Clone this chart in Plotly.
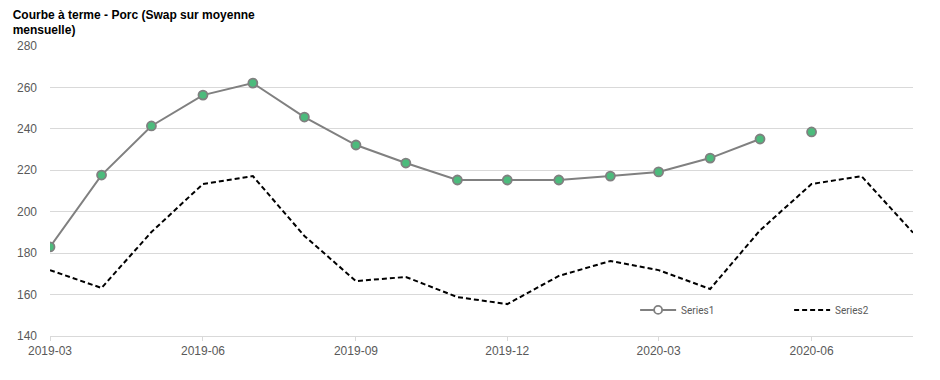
import plotly.graph_objects as go

months = ["2019-03-01", "2019-04-01", "2019-05-01", "2019-06-01", "2019-07-01", "2019-08-01",
          "2019-09-01", "2019-10-01", "2019-11-01", "2019-12-01", "2020-01-01", "2020-02-01",
          "2020-03-01", "2020-04-01", "2020-05-01", "2020-06-01", "2020-07-01", "2020-08-01"]

series1 = [183.0, 217.7, 241.4, 256.3, 262.1, 245.7, 232.2, 223.5, 215.3, 215.3, 215.3,
           217.2, 219.2, 225.9, 235.1, 238.5]
series2 = [171.8, 163.2, 190.2, 213.4, 217.2, 188.3, 166.5, 168.5, 158.8, 155.4, 169.0,
           176.2, 171.8, 162.7, 191.0, 213.4, 217.2, 189.9]

title_text = "Courbe à terme - Porc (Swap sur moyenne<br>mensuelle)"
yticks = [140, 160, 180, 200, 220, 240, 260, 280]

gray_line = "#808080"
green = "#4cbb7c"

fig = go.Figure()
# Series1: connected part
fig.add_trace(go.Scatter(
    x=months[:len(series1) - 1], y=series1[:-1], name="Series1",
    mode="lines+markers", showlegend=False, legendgroup="s1",
    line=dict(color=gray_line, width=2),
    marker=dict(size=9, color=green, line=dict(color=gray_line, width=1.8)),
))
# Series1: isolated last point
fig.add_trace(go.Scatter(
    x=months[len(series1) - 1:len(series1)], y=series1[-1:], name="Series1",
    mode="markers", showlegend=False, legendgroup="s1",
    marker=dict(size=9, color=green, line=dict(color=gray_line, width=1.8)),
))
# Series1 legend entry (hollow marker as in the reference legend)
fig.add_trace(go.Scatter(
    x=[None], y=[None], name="Series1", mode="lines+markers", legendgroup="s1",
    line=dict(color=gray_line, width=2),
    marker=dict(size=8, color="white", line=dict(color=gray_line, width=1.8)),
))
fig.add_trace(go.Scatter(
    x=months, y=series2, name="Series2", mode="lines",
    line=dict(color="#000000", width=2, dash="5px,3px"),
))

fig.update_layout(
    width=940, height=380,
    margin=dict(l=42, r=35, t=38, b=52, autoexpand=False),
    paper_bgcolor="white", plot_bgcolor="white",
    font=dict(family="Liberation Sans, Arial, sans-serif", size=12, color="#595959"),
    title=dict(text=title_text, x=0.005, xref="container", xanchor="left",
               y=0.972, yref="container", yanchor="top",
               font=dict(family="Liberation Sans, Arial, sans-serif", size=12, color="#000000",
                         weight="bold")),
    showlegend=True,
    legend=dict(orientation="h", x=0.678, xanchor="left", y=0.09, yanchor="middle",
                bgcolor="rgba(0,0,0,0)",
                font=dict(family="Roboto, sans-serif", size=10, color="#595959"),
                entrywidth=103, entrywidthmode="pixels", itemwidth=36),
    xaxis=dict(type="date", range=["2019-03-01", "2020-08-01"], automargin=False,
               tick0="2019-03-01", dtick="M3", tickformat="%Y-%m",
               showgrid=False, showline=True, linecolor="#d9d9d9", linewidth=1,
               ticks="outside", ticklen=4, tickcolor="#d9d9d9",
               tickfont=dict(size=12, color="#595959")),
    yaxis=dict(range=[140, 280], tickvals=yticks, showgrid=True, gridcolor="#d9d9d9",
               gridwidth=1, zeroline=False, showline=False, ticks="", ticklabelstandoff=12,
               automargin=False,
               tickfont=dict(size=12, color="#595959")),
)

fig.write_html("out.html")
